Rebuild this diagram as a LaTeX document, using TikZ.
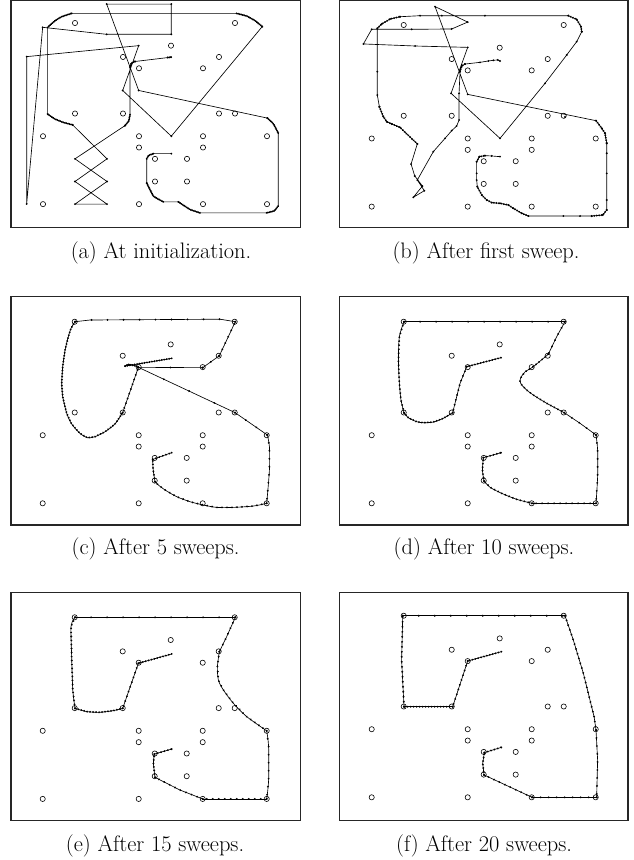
\documentclass[tikz,border=0pt]{standalone}
\usetikzlibrary{decorations.markings}
\begin{document}
\begin{tikzpicture}[x=1pt,y=-1pt,
  panelframe/.style={draw=black!85, line width=1.3pt},
  datapt/.style={draw=black, line width=0.6pt},
  net/.style={draw=black, line width=0.65pt, line join=round},
  beads/.style={postaction={decorate,decoration={markings,
      mark=between positions 0 and 1 step #1 with {\fill (0,0) circle (1.05pt);},
      mark=at position 0.99999 with {\fill (0,0) circle (1.05pt);}}}},
  captext/.style={font=\fontsize{22.4}{27}\selectfont, anchor=base, inner sep=0pt}
]
\useasboundingbox (0,0) rectangle (633,860);
\newcommand\datapts{%
  \foreach \a/\b in {2/0,12/0,8/2,5/3,11/3,6/4,10/4,2/8,5/8,11/8,12/8,0/10,6/10,10/10,14/10,6/11,10/11,7/12,9/12,7/14,9/14,0/16,6/16,10/16,14/16}
    \draw[datapt] (\a,\b) circle[radius=2.6pt];}
\newcommand\vertexdots[1]{\foreach \a/\b in {#1} \fill (\a,\b) circle[radius=1.05pt];}
\newcommand\smoothbeads[2]{\draw[net] plot[smooth] coordinates {#2};
  \path[beads=#1] plot coordinates {#2};}

% frames
\draw[panelframe] (11,0.7) rectangle (300.3,227.7);
\draw[panelframe] (339.3,0.7) rectangle (628,227.7);
\draw[panelframe] (11,296.7) rectangle (300.3,525);
\draw[panelframe] (339.3,296.7) rectangle (628,525);
\draw[panelframe] (11,592.7) rectangle (300.3,820.5);
\draw[panelframe] (339.3,592.7) rectangle (628,820.5);

% captions
\node[captext] (capa) at (161,258) {(a) At initialization.};
\node[captext] (capb) at (486,258) {(b) After first sweep.};
\node[captext] (capc) at (155.6,554.5) {(c) After 5 sweeps.};
\node[captext] (capd) at (484,554.5) {(d) After 10 sweeps.};
\node[captext] (cape) at (155,851) {(e) After 15 sweeps.};
\node[captext] (capf) at (484,851) {(f) After 20 sweeps.};

% ---------------- panel a
\begin{scope}[shift={(43,23)},x=16pt,y=-11.32pt]
\datapts
\draw[net] (8,3.02) -- (5.75,3.4)
  -- plot[smooth] coordinates {(5.75,3.4) (5.52,3.55) (5.44,3.9)}
  -- (5.44,8.1)
  -- plot[smooth] coordinates {(5.44,8.1) (5.36,8.65) (5.12,9.07)}
  -- (2,12) -- (4,14) -- (2,16) -- (4,16) -- (2,14) -- (4,12) -- (1.85,9.0)
  -- plot[smooth] coordinates {(1.85,9.0) (1.27,8.78) (0.75,8.49) (0.29,8.05)}
  -- (0.29,0.38)
  -- plot[smooth] coordinates {(0.29,0.38) (0.75,-0.2) (1.17,-0.56) (1.79,-0.85)}
  -- (12.1,-0.85)
  -- plot[smooth] coordinates {(12.1,-0.85) (12.73,-0.62) (13.25,-0.21) (13.7,0.32)}
  -- (8.02,10) -- (4.98,5.96) -- (5.98,2.0) -- (-1.02,2.97) -- (-1.02,15.98)
  -- (-0.02,0.38) -- (3.98,1.0) -- (8.02,1.0) -- (8.02,-1.67) -- (3.98,-1.67)
  -- (5.98,5.96) -- (14.02,8.4)
  -- plot[smooth] coordinates {(14.02,8.4) (14.4,8.9) (14.7,9.72)}
  -- (14.7,16.18)
  -- plot[smooth] coordinates {(14.7,16.18) (14.45,16.6) (13.98,16.77)}
  -- (9.81,16.77)
  -- plot[smooth] coordinates {(9.81,16.77) (9.19,16.48) (8.46,15.8)}
  -- (7.52,15.8)
  -- plot[smooth] coordinates {(7.52,15.8) (6.9,15.3) (6.48,14.13)}
  -- (6.48,12.0)
  -- plot[smooth] coordinates {(6.48,12.0) (6.6,11.7) (6.9,11.54)}
  -- (8.02,11.54);
\path[beads=1.6pt] plot coordinates {(5.75,3.4) (5.52,3.55) (5.44,3.9)};
\path[beads=1.6pt] plot coordinates {(5.44,8.1) (5.36,8.65) (5.12,9.07)};
\path[beads=1.6pt] plot coordinates {(1.85,9.0) (1.27,8.78) (0.75,8.49) (0.29,8.05)};
\path[beads=1.6pt] plot coordinates {(0.29,0.38) (0.75,-0.2) (1.17,-0.56) (1.79,-0.85)};
\path[beads=1.6pt] plot coordinates {(12.1,-0.85) (12.73,-0.62) (13.25,-0.21) (13.7,0.32)};
\path[beads=1.6pt] plot coordinates {(14.02,8.4) (14.4,8.9) (14.7,9.72)};
\path[beads=1.6pt] plot coordinates {(14.7,16.18) (14.45,16.6) (13.98,16.77)};
\path[beads=1.6pt] plot coordinates {(9.81,16.77) (9.19,16.48) (8.46,15.8)};
\path[beads=1.6pt] plot coordinates {(7.52,15.8) (6.9,15.3) (6.48,14.13)};
\path[beads=1.6pt] plot coordinates {(6.48,12.0) (6.6,11.7) (6.9,11.54)};
\path[beads=1.6pt] (8,3.02) -- (7.8,3.05);
\vertexdots{8/3.02,5.75/3.4,-1.02/2.97,-1.02/15.98,-0.02/0.38,3.98/1,8.02/1,8.02/-1.67,3.98/-1.67,5.98/5.96,14.02/8.4,8.02/10,4.98/5.96,5.98/2,2/12,4/14,2/16,4/16,2/14,4/12,8.02/11.54,13.7/0.32,1.85/9,5.12/9.07}
\end{scope}

% ---------------- panel b
\begin{scope}[shift={(371.7,25)},x=16pt,y=-11.35pt]
\datapts
\draw[net] (8.02,3.17) -- (7.88,3.08) -- (7.6,3.11) -- (7.29,3.17) -- (6.77,3.29)
 -- (5.83,3.44) -- (5.63,3.61) -- (5.52,4.11) -- (5.46,6.02) -- (5.46,8.37)
 -- (5.31,8.9) -- (5.0,9.31) -- (4.58,9.99) -- (3.85,11.16) -- (2.85,13.66)
 -- (3.29,14.6) -- (2.6,15.18) -- (3.17,14.19) -- (2.69,13.3) -- (2.46,12.25)
 -- (2.85,10.48) -- (1.77,9.02) -- (1.25,8.72) -- (0.94,8.52) -- (0.73,8.08)
 -- (0.48,7.2) -- (0.35,6.17) -- (0.35,4.11) -- (0.35,0.29) -- (0.63,-0.09)
 -- (1.15,-0.53) -- (1.77,-0.73) -- (3.02,-0.82) -- (4.38,-0.82) -- (7.08,-0.82)
 -- (12.29,-0.82) -- (12.81,-0.5) -- (13.08,0.15) -- (13.13,0.59) -- (12.81,1.47)
 -- (12.19,2.64) -- (10.83,5.14) -- (8.02,9.99) -- (4.96,6.02) -- (6.0,1.97)
 -- (2.71,1.85) -- (-0.52,1.67) -- (0,0.38) -- (2.5,0.38) -- (5.0,0.35)
 -- (6.0,-0.26) -- (3.96,-1.62) -- (6.0,6.11) -- (14.02,8.43) -- (14.38,9.1)
 -- (14.58,9.54) -- (14.69,10.43) -- (14.69,11.3) -- (14.69,13.07) -- (14.69,15.42)
 -- (14.69,16.3) -- (14.44,16.74) -- (13.75,16.83) -- (13.02,16.83) -- (11.98,16.83)
 -- (9.79,16.83) -- (9.38,16.59) -- (8.85,16.15) -- (8.54,15.86) -- (8.02,15.71)
 -- (7.5,15.65) -- (7.19,15.42) -- (6.88,14.98) -- (6.6,14.24) -- (6.56,13.66)
 -- (6.56,13.07) -- (6.56,12.04) -- (6.73,11.6) -- (7.08,11.51) -- (7.5,11.54)
 -- (8.02,11.6);
\vertexdots{8.02/3.17,7.88/3.08,7.6/3.11,7.29/3.17,6.77/3.29,5.83/3.44,5.63/3.61,5.52/4.11,5.46/6.02,5.46/8.37,5.31/8.9,5.0/9.31,4.58/9.99,3.85/11.16,2.85/13.66,3.29/14.6,2.6/15.18,3.17/14.19,2.69/13.3,2.46/12.25,2.85/10.48,1.77/9.02,1.25/8.72,0.94/8.52,0.73/8.08,0.48/7.2,0.35/6.17,0.35/4.11,0.35/0.29,0.63/-0.09,1.15/-0.53,1.77/-0.73,3.02/-0.82,4.38/-0.82,7.08/-0.82,12.29/-0.82,12.81/-0.5,13.08/0.15,13.13/0.59,12.81/1.47,12.19/2.64,10.83/5.14,8.02/9.99,4.96/6.02,6.0/1.97,2.71/1.85,-0.52/1.67,0/0.38,2.5/0.38,5.0/0.35,6.0/-0.26,3.96/-1.62,6.0/6.11,12.08/8.1,14.02/8.43,14.38/9.1,14.58/9.54,14.69/10.43,14.69/11.3,14.69/13.07,14.69/15.42,14.69/16.3,14.44/16.74,13.75/16.83,13.02/16.83,11.98/16.83,9.79/16.83,9.38/16.59,8.85/16.15,8.54/15.86,8.02/15.71,7.5/15.65,7.19/15.42,6.88/14.98,6.6/14.24,6.56/13.66,6.56/13.07,6.56/12.04,6.73/11.6,7.08/11.51,7.5/11.54,8.02/11.6}
\path[beads=2.5pt] (2.85,10.48) -- (1.77,9.02) -- (1.25,8.72) -- (0.94,8.52) -- (0.73,8.08) -- (0.48,7.2);
\path[beads=2.5pt] (0.35,0.29) -- (0.63,-0.09) -- (1.15,-0.53) -- (1.77,-0.73);
\path[beads=2.5pt] (12.29,-0.82) -- (12.81,-0.5) -- (13.08,0.15) -- (13.13,0.59);
\path[beads=2.5pt] (14.02,8.43) -- (14.38,9.1) -- (14.58,9.54) -- (14.69,10.43);
\path[beads=2.5pt] (14.69,16.3) -- (14.44,16.74) -- (13.75,16.83);
\path[beads=2.5pt] (9.79,16.83) -- (9.38,16.59) -- (8.85,16.15) -- (8.54,15.86) -- (8.02,15.71) -- (7.5,15.65) -- (7.19,15.42) -- (6.88,14.98) -- (6.6,14.24);
\path[beads=2.5pt] (6.56,12.04) -- (6.73,11.6) -- (7.08,11.51);
\path[beads=2.5pt] (5.83,3.44) -- (5.63,3.61) -- (5.52,4.11);
\end{scope}

% ---------------- panel c
\begin{scope}[shift={(42.7,321.7)},x=16pt,y=-11.35pt]
\datapts
\draw[net,beads=2.5pt] (8.06,3.23) -- (5.15,3.91);
\smoothbeads{2pt}{(5.15,3.91) (5.35,3.76) (5.77,3.88) (5.98,4.02)}
\draw[net,beads=32pt] (5.98,4.02) -- (10,4.05);
\draw[net,beads=10pt] (10,4.05) -- (11.04,3.0);
\draw[net,beads=7pt] (11.04,3) -- (12.04,0);
\draw[net,beads=16pt] (12.04,0) -- (11.08,-0.22) -- (2.96,-0.15) -- (2.02,0);
\smoothbeads{3pt}{(2.02,0) (1.77,0.58) (1.6,1.32) (1.4,2.49) (1.25,3.96) (1.19,5.43) (1.25,6.6) (1.5,8.07) (1.81,9.01) (2.33,9.84) (2.79,10.22) (3.27,10.13) (3.9,9.69) (4.52,9.01) (5.0,8.01)}
\draw[net,beads=5pt] (5,8.01) -- (5.98,4.02);
\draw[net,beads=28pt] (5.98,4.02) -- (12.02,8.01);
\draw[net,beads=13pt] (12.02,8.01) -- (14.04,9.98);
\smoothbeads{8pt}{(14.04,9.98) (14.17,11.01) (14.17,13.07) (14.0,16.0)}
\smoothbeads{5pt}{(14,16) (13.17,16.24) (11.92,16.36) (10.88,16.36) (10.04,16.15) (9.21,15.86) (8.38,15.42) (7.65,14.83) (7.23,14.39) (7.02,14.1)}
\smoothbeads{3.5pt}{(7.02,14.1) (6.9,13) (6.88,12.13)}
\draw[net,beads=3.5pt] (6.88,12.13) -- (8.06,11.54);
\end{scope}

% ---------------- panel d
\begin{scope}[shift={(371.7,321.7)},x=16pt,y=-11.35pt]
\datapts
\draw[net,beads=3pt] (8.08,3.17) -- (5.94,3.96);
\draw[net,beads=5pt] (5.94,3.96) -- (5.52,5.43) -- (5.06,8.02);
\smoothbeads{3pt}{(5.06,8.02) (4.48,8.51) (3.85,8.84) (3.23,8.9) (2.81,8.81) (2.29,8.46) (2.02,8.02)}
\smoothbeads{4pt}{(2.02,8.02) (1.83,6.9) (1.73,5.43) (1.67,3.38) (1.73,1.32) (2.02,0)}
\draw[net,beads=16pt] (2.02,0) -- (12.08,0);
\draw[net,beads=7pt] (12.08,0) -- (11.56,1.32) -- (11.04,2.86);
\smoothbeads{4pt}{(11.04,2.86) (10.5,3.5) (10.04,4.02) (9.6,4.4) (9.35,4.85) (9.27,5.23) (9.38,5.58) (9.69,6.02) (10.1,6.46) (10.94,7.19) (12.04,8.02)}
\draw[net,beads=9pt] (12.04,8.02) -- (13.02,8.95) -- (14.02,9.98);
\smoothbeads{8pt}{(14.02,9.98) (14.12,11.3) (14.12,13.65) (14.02,16)}
\draw[net,beads=6pt] (14.02,16) -- (10.02,16);
\smoothbeads{4pt}{(10.02,16) (9.06,15.65) (8.12,15.12) (7.4,14.59) (7.02,14.04)}
\smoothbeads{3.5pt}{(7.02,14.04) (6.92,13.07) (6.98,11.98)}
\draw[net,beads=3.5pt] (6.98,11.98) -- (8.08,11.54);
\end{scope}

% ---------------- panel e
\begin{scope}[shift={(42.7,617.3)},x=16pt,y=-11.35pt]
\datapts
\draw[net,beads=3pt] (8.06,3.23) -- (5.98,4.05);
\draw[net,beads=5pt] (5.98,4.05) -- (5,8.02);
\smoothbeads{3pt}{(5,8.02) (4.42,8.22) (3.58,8.37) (2.75,8.31) (2.02,8.02)}
\smoothbeads{4pt}{(2.02,8.02) (1.88,6.4) (1.81,3.47) (1.77,0.82) (2.02,0)}
\draw[net,beads=16pt] (2.02,0) -- (12.04,0);
\draw[net,beads=6pt] (12.04,0) -- (11.5,1.7) -- (11.04,3.03);
\smoothbeads{5pt}{(11.04,3.03) (10.92,4.35) (10.98,5.52) (11.29,6.4) (11.92,7.58) (12.75,8.75) (14,10.0)}
\smoothbeads{8pt}{(14,10) (14.12,11.4) (14.12,14.33) (14,16)}
\draw[net,beads=6pt] (14,16) -- (10,16);
\draw[net,beads=6pt] (10,16) -- (8.58,15.22) -- (7.02,14.1);
\smoothbeads{3.5pt}{(7.02,14.1) (6.92,12.87) (6.98,12.05)}
\draw[net,beads=3.5pt] (6.98,12.05) -- (8.06,11.61);
\end{scope}

% ---------------- panel f
\begin{scope}[shift={(371.7,615.7)},x=16pt,y=-11.35pt]
\datapts
\draw[net,beads=3pt] (8.1,3.17) -- (6,3.99);
\draw[net,beads=5pt] (6,3.99) -- (5.06,8.02);
\draw[net,beads=3pt] (5.06,8.02) -- (2.02,8.02);
\draw[net,beads=5pt] (2.02,8.02) -- (1.87,3.9) -- (1.94,0);
\draw[net,beads=16pt] (1.94,0) -- (12.08,0);
\draw[net,beads=5pt] (12.08,0) -- (12.6,2.14) -- (13.23,5.08) -- (13.9,8.9) -- (14.02,10.07);
\draw[net,beads=8pt] (14.02,10.07) -- (14.12,12.71) -- (14.06,16);
\draw[net,beads=8pt] (14.06,16) -- (10.02,16);
\draw[net,beads=6pt] (10.02,16) -- (7.02,14.03);
\draw[net,beads=3.5pt] (7.02,14.03) -- (6.94,13) -- (7.04,12.06);
\draw[net,beads=3.5pt] (7.04,12.06) -- (8.1,11.6);
\end{scope}
\end{tikzpicture}
\end{document}
